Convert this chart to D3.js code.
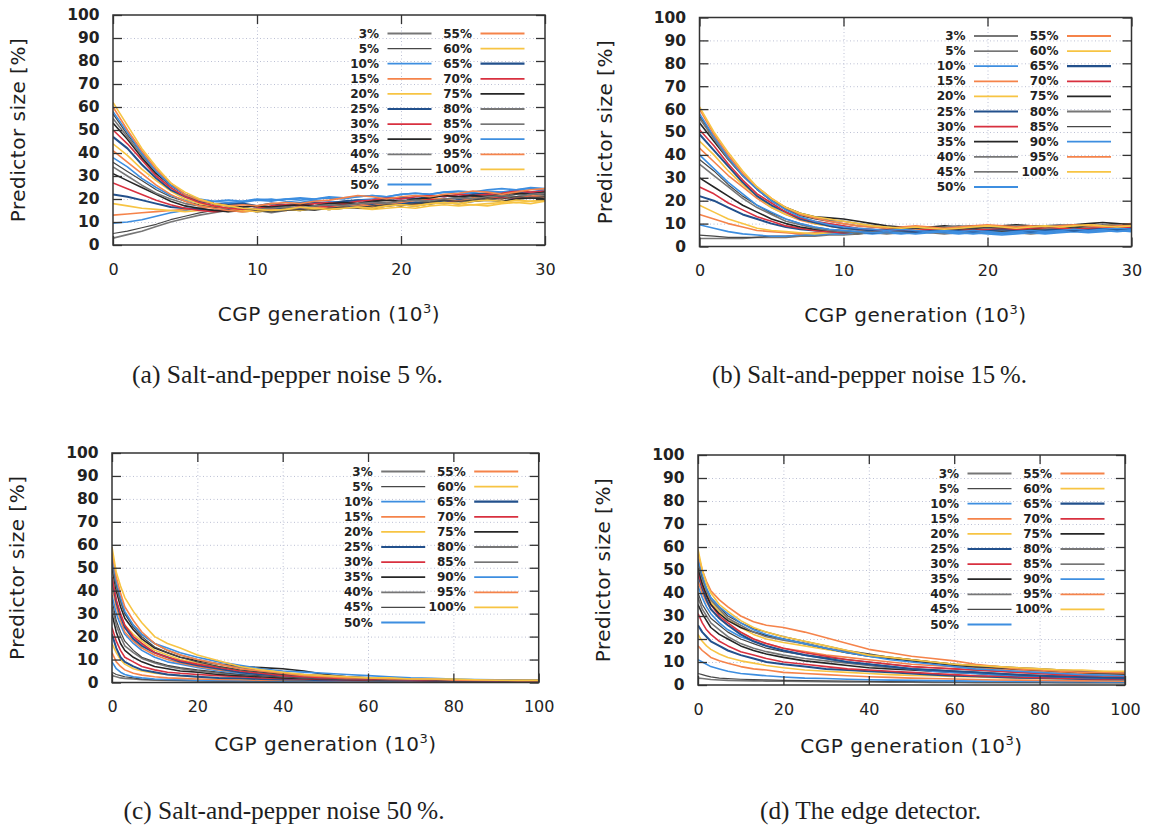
<!DOCTYPE html>
<html>
<head>
<meta charset="utf-8">
<script src="https://cdn.jsdelivr.net/npm/d3@7"></script>
<style>
  body { margin: 0; background: #fff; }
  svg { display: block; }
</style>
</head>
<body>
<div id="vizcontainer"></div>
<script>
// series labels (noise level of the training set)
const seriesLabels = ['3%', '5%', '10%', '15%', '20%', '25%', '30%', '35%', '40%', '45%', '50%',
  '55%', '60%', '65%', '70%', '75%', '80%', '85%', '90%', '95%', '100%'];

const yTicks = [0, 10, 20, 30, 40, 50, 60, 70, 80, 90, 100];
const xTicksShort = [0, 10, 20, 30];
const xTicksLong = [0, 20, 40, 60, 80, 100];

// generations (10^3)
const genA = [0, 1, 2, 3, 4, 5, 6, 7, 8, 9, 10, 11, 12, 13, 14, 15, 16, 17, 18, 19, 20, 21, 22, 23, 24, 25, 26, 27, 28, 29, 30];
const genB = [0, 1, 2, 3, 4, 5, 6, 7, 8, 9, 10, 11, 12, 13, 14, 15, 16, 17, 18, 19, 20, 21, 22, 23, 24, 25, 26, 27, 28, 29, 30];
const genC = [0, 1, 2, 3, 5, 7, 10, 13, 16, 20, 25, 30, 35, 40, 45, 50, 55, 60, 65, 70, 75, 80, 85, 90, 95, 100];
const genD = [0, 1, 2, 3, 5, 7, 10, 13, 16, 20, 25, 30, 35, 40, 45, 50, 55, 60, 65, 70, 75, 80, 85, 90, 95, 100];

// (a) salt-and-pepper noise 5 %
const sizeA = [
  [3,4.5,6,8,10,11.5,13,14,15,14.5,15,14,15,16,15.5,16.5,16,17,17.5,17,18,18.5,18,19,19.5,19,20,20.5,20,21,20.5],
  [5,6,7.5,9,11,12.5,14,15,14.5,15.5,16,16.5,16,15.5,16.5,17,17.5,17,16.5,17.5,18,18.5,19,18.5,19.5,20,19.5,20.5,21,20.5,21.5],
  [9.5,10,11,12.5,14,15,16,17,18,18.5,19.5,20,19,18.5,19.5,19,18.5,19.5,20,20.5,20,21,21.5,21,22,22.5,22,23,23.5,23,24],
  [13,13.5,14,14.5,15,15.5,16,16.5,16,15,16,16.5,16,15.5,16,17,17.5,17,18,18.5,18,17.5,19,19.5,19,20.5,21,20.5,20,21,21.5],
  [18,17,16,15.5,15,14.5,15,15.5,15,14.5,15,15.5,15,16,15.5,16,16.5,16,15.5,16,16.5,16,17,17.5,17,17.5,17,18,18.5,18,19],
  [22,21,19.5,18,16.5,16,15.5,15,15.5,15,16,15.5,16,16.5,16,17,16.5,17,17.5,17,18,18.5,18,19,19.5,19,20,20.5,20,21,21.5],
  [27,24.5,22,19.5,17.5,16,15,14.5,15,15.5,15,16,17,17.5,17,16.5,17,18,18.5,18,19,19.5,20,19.5,19,20,20.5,21,20.5,21.5,21],
  [31,28,25,22,19,17,16,15,14.5,15,14.5,15,15.5,15,16,15.5,16,16.5,16,17,17.5,17,18,18.5,18,19,19.5,19,20,20.5,20],
  [34,30,26,22.5,20,18,17,16.5,16,16.5,17,16.5,17,17.5,17,18,18.5,18,19,18.5,19,19.5,19,20,20.5,20,21,21.5,21,22,21.5],
  [36,32,28,24,21,19,17.5,16.5,16,16.5,17,16,17,17.5,17,18,17.5,18,18.5,18,19,19.5,19,20,20.5,21,21.5,21,22,22.5,22],
  [38,34,29,25,21.5,19.5,18.5,19,19.5,19,20,19.5,20,20.5,20,21,20.5,21,21.5,21,22,22.5,22,23,22.5,23,23.5,23,24,24.5,24],
  [41,36,31,26,22,19,17,16,15,14.5,15,15.5,15,16,16.5,16,17,17.5,17,18,18.5,19.5,20.5,20,19,20,20.5,20,21,21.5,21],
  [44,39,33,28,23.5,20,18,17,16,15,14.5,15,15.5,15,16,15.5,16,16.5,16,17,17.5,17,18,18.5,18,17.5,18,18.5,19.5,19,19.5],
  [47,42,35,29,24,21,19,18,17.5,18,17,18,17.5,18,18.5,18,19,19.5,19,20,20.5,20,21,21.5,21,22,22.5,22,23,22.5,23],
  [50,44,37,30,25,21,18.5,17,16,15.5,16,17,17.5,17,18,18.5,18,19,19.5,20.5,20,21,21.5,21,22,21.5,22,22.5,23.5,23,23.5],
  [53,46,38,31,26,22,19.5,18,17,16.5,17,16.5,17,17.5,17,18,18.5,18,19,19.5,19,20,20.5,21.5,21,21.5,21,22,22.5,22,23],
  [55,47,39,32,26,22,19.5,18,17,16,15.5,16,16.5,16,17,17.5,17,18,18.5,18,19,19.5,19,20,20.5,20,21,21.5,21,22,22.5],
  [57,48,40,32,26,22,19.5,18,17,16,15,14.5,15,15.5,15,16,16.5,16,17,17.5,17,18,18.5,19.5,19,19.5,20.5,20,21,20.5,21],
  [58,49,40,32,26,22,20,19,18.5,19,19.5,19,20,19.5,20,20.5,20,21,21.5,21,22,22.5,22,23,23.5,23,24,24.5,24,25,24.5],
  [60,50,41,33,27,22,19.5,18,17,17.5,17,18,18.5,18,19,19.5,20.5,21.5,21,20,21,21.5,21,22,22.5,23.5,23,22,23,24,24.5],
  [62,52,42,34,27,23,20,18,17,16,15.5,15,15.5,16.5,16,15.5,16,16.5,16,17,17.5,17,18,18.5,18,19,19.5,19,18.5,19,19.5]
];

// (b) salt-and-pepper noise 15 %
const sizeB = [
  [3.5,3.5,3.5,3.5,4,4,4,4.5,4.5,5,5,5.5,6,5.5,6,6.5,6,5.5,6,6.5,6,6.5,6,5.5,6,6.5,7,6.5,7,7.5,7],
  [5,4.5,4,4,4,4.5,4.5,5,5,5.5,6,5.5,6,6.5,6,6.5,6,6.5,7,6.5,7,6.5,7,7.5,7,6.5,7,7.5,7,7.5,7],
  [9.5,8,6.5,5.5,5,4.5,4.5,5,5,5.5,5.5,6,5.5,6,5.5,6,6.5,6,5.5,6,5.5,5,5.5,6,5.5,6,6.5,6,6.5,7,6.5],
  [14,12,10,8.5,7,6.5,6,5.5,6,6.5,6,6.5,7,6.5,7,7.5,7,7.5,8,7.5,8,8.5,8,8.5,9,8.5,8,8.5,9,8.5,9],
  [18,15,12,10,8,7,6.5,6,5.5,6,6.5,6,6.5,7,6.5,7,7.5,7,7.5,8,7.5,8,8.5,8,7.5,8,8.5,9,8.5,9,8.5],
  [22,20,17,14,12,10,8.5,7.5,7,6.5,6,6.5,6,6.5,7,6.5,7,6.5,7,7.5,7,7.5,7,6.5,7,7.5,7,7.5,8,7.5,8],
  [26,23,19,16,13,11,9,8,7,6.5,6,6.5,7,6.5,7,7.5,7,7.5,7,7.5,8,7.5,8,7.5,8,8.5,8,8.5,8,8.5,8],
  [30,26,22,18,15,12,10,8.5,7.5,7,6.5,6,6.5,7,6.5,7,7.5,7,7.5,8,7.5,8,7.5,8,8.5,8,8.5,8,8.5,9,8.5],
  [36,31,26,21,17,14,11,9.5,8,7,6.5,6,6.5,6,6.5,7,6.5,7,6.5,7,7.5,7,7.5,7,7.5,8,7.5,8,7.5,8,8.5],
  [38,33,27,22,18,14.5,12,10,8.5,7.5,7,6.5,6,6.5,6,6.5,7,6.5,7,7.5,7,6.5,7,7.5,7,7.5,8,7.5,8,7.5,8],
  [40,34,28,23,18,15,12,10,8.5,7.5,7,6.5,6,6.5,6,5.5,6,6.5,6,5.5,6,5.5,6,6.5,6,6.5,7,6.5,7,6.5,7],
  [43,37,31,26,21,17,14,11.5,10,9,8,7.5,7,7.5,8,7.5,8,7.5,8,8.5,8,8.5,9,8.5,9,8.5,9,9.5,9,9.5,10],
  [46,40,33,27,22,17,14,12,10,9,8,7.5,7,7.5,8,7.5,8,8.5,8,8.5,9,8.5,8,8.5,9,8.5,9,8.5,9,9.5,9],
  [49,42,35,28,22,18,15,12,10.5,9,8,7.5,7,7.5,7,6.5,7,7.5,7,6.5,7,7.5,7,6.5,7,7.5,7,7.5,8,7.5,8],
  [51,44,36,29,23,19,15,12.5,11,10,9,8,7.5,7,7.5,7,7.5,8,7.5,7,7.5,8,7.5,8,8.5,8,7.5,8,8.5,8,8.5],
  [54,46,38,31,25,20,17,14.5,13,12.5,12,11,10,9,8.5,8,8.5,9,8.5,9,8.5,9,9.5,9,8.5,9,9.5,10,10.5,10,9.5],
  [56,47,38,31,25,20,16.5,14,12.5,11.5,11,10,9,8.5,8,8.5,8,8.5,9,8.5,8,8.5,9,8.5,9,9.5,9,8.5,9,9.5,9],
  [57,48,39,31,25,20,16,13.5,12,11,10,9,8.5,8,7.5,8,8.5,8,7.5,8,8.5,8,8.5,9,8.5,9,8.5,9,9.5,9,9.5],
  [58,48,39,31,25,20,16,13,11,9.5,8.5,8,7.5,7,7.5,7,6.5,7,6.5,7,6.5,6,6.5,7,6.5,7,7.5,7,7.5,8,7.5],
  [60,49,40,32,26,21,17,14,12.5,11,10,9,8.5,8,8.5,9,8.5,8,8.5,9,9.5,9,8.5,9,8.5,9,9.5,9,8.5,9,9.5],
  [61,50,41,33,26,21,17,14.5,13,12,11,10,9,8.5,8,8.5,8,7.5,8,8.5,9,8.5,8,8.5,9,8.5,9,9.5,9,8.5,9]
];

// (c) salt-and-pepper noise 50 %
const sizeC = [
  [3,2.5,2,1.8,1.5,1.2,1,0.9,0.8,0.7,0.6,0.6,0.5,0.5,0.5,0.5,0.4,0.4,0.4,0.4,0.4,0.4,0.4,0.4,0.4,0.4],
  [4.5,3.5,3,2.5,2,1.5,1.2,1,0.9,0.8,0.7,0.7,0.6,0.6,0.5,0.5,0.5,0.5,0.4,0.4,0.4,0.4,0.4,0.4,0.4,0.4],
  [9,6,4.5,3.5,2.5,2,1.5,1.3,1.2,1,0.9,0.8,0.8,0.7,0.7,0.6,0.6,0.6,0.5,0.5,0.5,0.5,0.5,0.4,0.4,0.4],
  [13,9,7,5.5,4,3.2,2.5,2,1.8,1.5,1.3,1.2,1,1,0.9,0.9,0.8,0.8,0.7,0.7,0.7,0.6,0.6,0.6,0.6,0.5],
  [17,13,10,8,6,5,4,3.5,3,2.5,2,1.8,1.5,1.3,1.2,1.1,1,1,0.9,0.9,0.8,0.8,0.8,0.7,0.7,0.7],
  [21,15,11,9,7,5.5,4.5,3.5,3,2.5,2,1.8,1.5,1.3,1.2,1,1,0.9,0.8,0.8,0.7,0.7,0.6,0.6,0.6,0.5],
  [24,18,14,11,9,7,5.5,4.5,4,3.5,3,2.5,2,1.8,1.5,1.3,1.2,1,1,0.9,0.8,0.8,0.7,0.7,0.6,0.6],
  [30,22,17,14,11,9,7,6,5,4.5,3.5,3,2.5,2,1.8,1.5,1.3,1.2,1,1,0.9,0.8,0.8,0.7,0.7,0.6],
  [33,25,20,16,13,10.5,8.5,7,6,5,4,3.5,3,2.5,2,1.8,1.5,1.3,1.2,1.1,1,0.9,0.9,0.8,0.8,0.7],
  [36,27,22,18,14,11,9,7.5,6.5,5.5,4.5,3.5,3,2.5,2,1.8,1.5,1.3,1.2,1,1,0.9,0.8,0.8,0.7,0.7],
  [38,30,25,21,17,14,11,9,8,6.5,5,4,3.5,3,2.5,2.2,2,1.8,1.5,1.3,1.2,1.1,1,1,0.9,0.9],
  [42,33,27,22,18,15,12,10,8.5,7,5.5,4.5,3.5,3,2.5,2,1.8,1.5,1.3,1.2,1.1,1,1,0.9,0.9,0.8],
  [44,35,29,25,21,18,14,12,10,8.5,7,5.5,4.5,3.5,3,2.5,2,1.8,1.6,1.5,1.4,1.3,1.2,1.2,1.1,1.1],
  [45,35,29,24,19,16,13,11,9,7.5,6,4.5,3.5,3,2.5,2,1.8,1.5,1.3,1.2,1,1,0.9,0.8,0.8,0.7],
  [46,36,30,25,20,17,13,11,9.5,8,6.5,5,4,3,2.5,2,1.8,1.5,1.3,1.2,1,1,0.9,0.8,0.8,0.7],
  [50,40,33,28,23,19,15,13,11,9.5,8,7,6.5,6,5,3.5,2.5,2,1.8,1.5,1.3,1.2,1,1,0.9,0.8],
  [52,42,35,30,25,21,17,14,12,10,8,6.5,5,4,3.5,3,2.5,2,1.8,1.5,1.3,1.2,1,1,0.9,0.9],
  [54,43,36,30,24,20,15.5,13,11,9,7,5.5,4.5,3.5,3,2.5,2,1.8,1.5,1.3,1.2,1,1,0.9,0.8,0.8],
  [55,44,37,31,25,21,17,15,13,11,9,7.5,6,5,4.5,4,3.5,3,2.5,2,1.8,1.5,1.3,1.2,1,1],
  [57,46,39,33,27,22,17,14,12,10,8,6,5,4,3,2.5,2,2,1.5,1.5,1.5,1,1,1,0.8,0.8],
  [59,48,42,37,31,26,20,17,15,12,9.5,7,5.5,4.5,3.5,3,2.5,2,2,1.5,1.5,1.5,1.2,1,1,1]
];

// (d) the edge detector
const sizeD = [
  [3,2.8,2.6,2.4,2.2,2,1.9,1.8,1.7,1.6,1.5,1.4,1.3,1.3,1.2,1.2,1.1,1.1,1,1,1,1,0.9,0.9,0.9,0.9],
  [5,4.5,4,3.5,3,2.8,2.5,2.3,2.2,2,1.9,1.8,1.7,1.6,1.5,1.5,1.4,1.4,1.3,1.3,1.2,1.2,1.2,1.1,1.1,1.1],
  [11,10,9,8,7,6,5,4.5,4,3.5,3,2.8,2.5,2.3,2.1,2,1.9,1.8,1.7,1.6,1.5,1.5,1.4,1.4,1.3,1.3],
  [17,15,13.5,12,10.5,9.5,8,7,6.5,5.5,5,4.5,4,3.6,3.3,3,2.8,2.6,2.4,2.2,2.1,2,1.9,1.8,1.8,1.7],
  [22,19,17,15.5,13.5,12,10.5,9.5,8.5,7.5,6.5,6,5.5,5,4.5,4.2,4,3.7,3.5,3.2,3,2.8,2.7,2.6,2.5,2.4],
  [26,23,21,19,17,15,13,11.5,10,9,8,7,6.5,6,5.5,5,4.5,4,3.8,3.5,3.2,3,2.8,2.6,2.5,2.4],
  [31,27,24,22,19,17,14.5,13,11.5,10,9,8,7,6.5,6,5.5,5,4.5,4,3.8,3.5,3.2,3,2.8,2.6,2.5],
  [35,31,28,25,22,20,17,15,13.5,12,10.5,9.5,8.5,7.5,7,6.5,6,5.5,5,4.5,4,3.8,3.5,3.3,3,2.8],
  [38,33,30,27,24,21,18,16,14.5,13,11.5,10.5,9.5,8.5,7.5,7,6.5,6,5.5,5,4.5,4.2,4,3.8,3.5,3.3],
  [40,35,32,29,26,23,20,18,16,14.5,13,12,11,10,9,8,7.5,7,6.5,6,5.5,5,4.8,4.5,4.2,4],
  [43,38,34,31,27,24,21,19,17,15,13,11.5,10,9,8,7,6,5.5,5,4.5,4,3.8,3.5,3.2,3,2.8],
  [45,40,36,33,29,26,23,20,18,16,14.5,13,12,11,10,9,8.5,8,7.5,7,6.5,6,5.5,5,4.8,4.5],
  [50,44,40,36,32,29,25,22,20,18.5,17,15.5,14,13,12,11,10,9,8.5,8,7.5,7,6.5,6,5.8,5.5],
  [48,42,37,33,29,26,22,19,17,15,13,11.5,10,9,8,7,6.5,6,5.5,5,4.5,4,3.7,3.5,3.2,3],
  [49,43,39,35,30,27,23,20,18,16,14,12.5,11,10,9,8,7.5,7,6.5,6,5.5,5,4.5,4.2,4,3.8],
  [51,44,39,35,31,28,25,23,21.5,20,18,16,14,12.5,11.5,10.5,9.5,8.5,8,7.5,7,6.5,6,5.5,5,4.8],
  [53,46,41,37,33,29,26,23,21,19.5,18,16,14.5,13,12,11,10,9,8.5,8,7.5,7,6.5,6,5.5,5.5],
  [54,47,42,38,34,30,27,24.5,23,21,19,17,15,13.5,12,11,10,9,8,7.5,7,6.5,6,5.5,5,5],
  [55,48,42,38,34,31,27,24,22,20,18,16,14,12.5,11,10,9,8,7,6.5,6,5.5,5,4.5,4.3,4],
  [57,50,45,41,37,34,30,27.5,26,25,23,20.5,18,15.5,14,12.5,11.5,10.5,9,8,7,6.5,6,5.5,5.5,5.2],
  [59,50,44,40,35,32,28,25,23,21,19,17,15,13,12,11,10,9,8.5,8,7.5,7,6.5,6.5,6,6]
];

// line styles, in the order of seriesLabels
const C_GRAY = '#767676', C_DGRAY = '#474747', C_BLUE = '#3d8ee0', C_ORANGE = '#f5834a',
  C_YELLOW = '#f7c443', C_DBLUE = '#22508c', C_RED = '#d8303f', C_BLACK = '#262626';
const seriesColors = [C_GRAY, C_DGRAY, C_BLUE, C_ORANGE, C_YELLOW, C_DBLUE, C_RED, C_BLACK,
  C_GRAY, C_DGRAY, C_BLUE, C_ORANGE, C_YELLOW, C_DBLUE, C_RED, C_BLACK,
  C_GRAY, C_DGRAY, C_BLUE, C_ORANGE, C_YELLOW];
const seriesWidths = seriesColors.map(c => c === C_DBLUE ? 2.0 : (c === C_DGRAY ? 1.2 : 1.6));

const width = 1151, height = 830;

const panels = [
  { gen: genA, sizes: sizeA, xMax: 30, xTicks: xTicksShort, box: [113, 545, 15, 245],
    xlabY: 321, caption: '(a) Salt-and-pepper noise 5\u2009%.', capX: 132, capY: 383, capW: 311 },
  { gen: genB, sizes: sizeB, xMax: 30, xTicks: xTicksShort, box: [699.5, 1131.5, 17.5, 246.5],
    xlabY: 322, caption: '(b) Salt-and-pepper noise 15\u2009%.', capX: 712, capY: 383, capW: 315 },
  { gen: genC, sizes: sizeC, xMax: 100, xTicks: xTicksLong, box: [112, 538.7, 453, 682.5],
    xlabY: 751, caption: '(c) Salt-and-pepper noise 50\u2009%.', capX: 123.5, capY: 819, capW: 321 },
  { gen: genD, sizes: sizeD, xMax: 100, xTicks: xTicksLong, box: [698, 1125, 455, 685],
    xlabY: 753, caption: '(d) The edge detector.', capX: 760, capY: 819, capW: 221 }
];

const svg = d3.select('#vizcontainer')
  .append('svg')
  .attr('width', width)
  .attr('height', height);

svg.append('rect').attr('width', width).attr('height', height).attr('fill', '#fff');

const sans = "'DejaVu Sans', Verdana, sans-serif";
const serif = "'Liberation Serif', 'DejaVu Serif', serif";

panels.forEach((p, pi) => {
  const [x0, x1, y0, y1] = p.box;
  const x = d3.scaleLinear().domain([0, p.xMax]).range([x0, x1]);
  const y = d3.scaleLinear().domain([0, 100]).range([y1, y0]);
  const g = svg.append('g');

  // dotted grid
  g.append('g')
    .attr('transform', `translate(${x0},0)`)
    .call(d3.axisLeft(y).tickValues(yTicks.slice(1, -1)).tickSize(-(x1 - x0)).tickFormat(''))
    .call(a => a.select('.domain').remove())
    .selectAll('line')
    .attr('stroke', '#bcc0d4')
    .attr('stroke-width', 1)
    .attr('stroke-dasharray', '1,2.5');
  g.append('g')
    .attr('transform', `translate(0,${y1})`)
    .call(d3.axisBottom(x).tickValues(p.xTicks.slice(1, -1)).tickSize(-(y1 - y0)).tickFormat(''))
    .call(a => a.select('.domain').remove())
    .selectAll('line')
    .attr('stroke', '#bcc0d4')
    .attr('stroke-width', 1)
    .attr('stroke-dasharray', '1,2.5');

  // series
  const clipId = 'clip' + pi;
  g.append('clipPath').attr('id', clipId)
    .append('rect').attr('x', x0).attr('y', y0 - 1).attr('width', x1 - x0).attr('height', y1 - y0 + 1);

  const line = d3.line()
    .x((d, i) => x(p.gen[i]))
    .y(d => y(d));

  g.append('g')
    .attr('clip-path', `url(#${clipId})`)
    .selectAll('path')
    .data(p.sizes)
    .join('path')
    .attr('d', line)
    .attr('fill', 'none')
    .attr('stroke', (d, i) => seriesColors[i])
    .attr('stroke-width', (d, i) => seriesWidths[i])
    .attr('stroke-linejoin', 'round');

  // axes with inward ticks on all four sides
  const left = g.append('g')
    .attr('transform', `translate(${x0},0)`)
    .call(d3.axisLeft(y).tickValues(yTicks).tickSize(-9).tickPadding(13.5));
  left.selectAll('text')
    .attr('font-family', sans).attr('font-size', 15.5).attr('font-weight', 'bold').attr('fill', '#222');

  g.append('g')
    .attr('transform', `translate(${x1},0)`)
    .call(d3.axisRight(y).tickValues(yTicks).tickSize(-9).tickFormat(''));

  g.append('g')
    .attr('transform', `translate(0,${y0})`)
    .call(d3.axisTop(x).tickValues(p.xTicks).tickSize(-9).tickFormat(''));

  const bottom = g.append('g')
    .attr('transform', `translate(0,${y1})`)
    .call(d3.axisBottom(x).tickValues(p.xTicks).tickSize(-9).tickPadding(18.5));
  bottom.selectAll('text')
    .attr('font-family', sans).attr('font-size', 16).attr('fill', '#222');

  g.selectAll('.domain').remove();
  g.selectAll('.tick line:not([stroke-dasharray])').attr('stroke', '#333').attr('stroke-width', 1.3);

  g.append('rect')
    .attr('x', x0).attr('y', y0)
    .attr('width', x1 - x0).attr('height', y1 - y0)
    .attr('fill', 'none')
    .attr('stroke', '#333')
    .attr('stroke-width', 1.5);

  // axis titles
  g.append('text')
    .attr('transform', `translate(${x0 - 88},${(y0 + y1) / 2}) rotate(-90)`)
    .attr('text-anchor', 'middle')
    .attr('font-family', sans).attr('font-size', 20).attr('letter-spacing', 0.5)
    .attr('fill', '#1e1e1e')
    .text('Predictor size [%]');

  const xl = g.append('text')
    .attr('x', (x0 + x1) / 2).attr('y', p.xlabY)
    .attr('text-anchor', 'middle')
    .attr('font-family', sans).attr('font-size', 20).attr('letter-spacing', 0.5)
    .attr('fill', '#1e1e1e');
  xl.append('tspan').text('CGP generation (10');
  xl.append('tspan').attr('dy', -8).attr('font-size', 13).text('3');
  xl.append('tspan').attr('dy', 8).text(')');

  // legend, two columns in the upper right corner
  seriesLabels.forEach((lab, i) => {
    const col = i < 11 ? 0 : 1;
    const row = col === 0 ? i : i - 11;
    const lx = col === 0 ? x1 - 166 : x1 - 73;
    const ly = y0 + 18.5 + 15.1 * row;
    g.append('text')
      .attr('x', lx).attr('y', ly)
      .attr('text-anchor', 'end')
      .attr('dominant-baseline', 'central')
      .attr('font-family', sans).attr('font-size', 12).attr('font-weight', 'bold')
      .attr('fill', '#222')
      .text(lab);
    g.append('line')
      .attr('x1', lx + 8.5).attr('x2', lx + 52.5)
      .attr('y1', ly).attr('y2', ly)
      .attr('stroke', seriesColors[i])
      .attr('stroke-width', seriesWidths[i] + 0.2);
  });

  // caption
  svg.append('text')
    .attr('x', p.capX).attr('y', p.capY)
    .attr('font-family', serif).attr('font-size', 25)
    .attr('textLength', p.capW).attr('lengthAdjust', 'spacingAndGlyphs')
    .attr('fill', '#1e1e1e')
    .text(p.caption);
});
</script>
</body>
</html>
